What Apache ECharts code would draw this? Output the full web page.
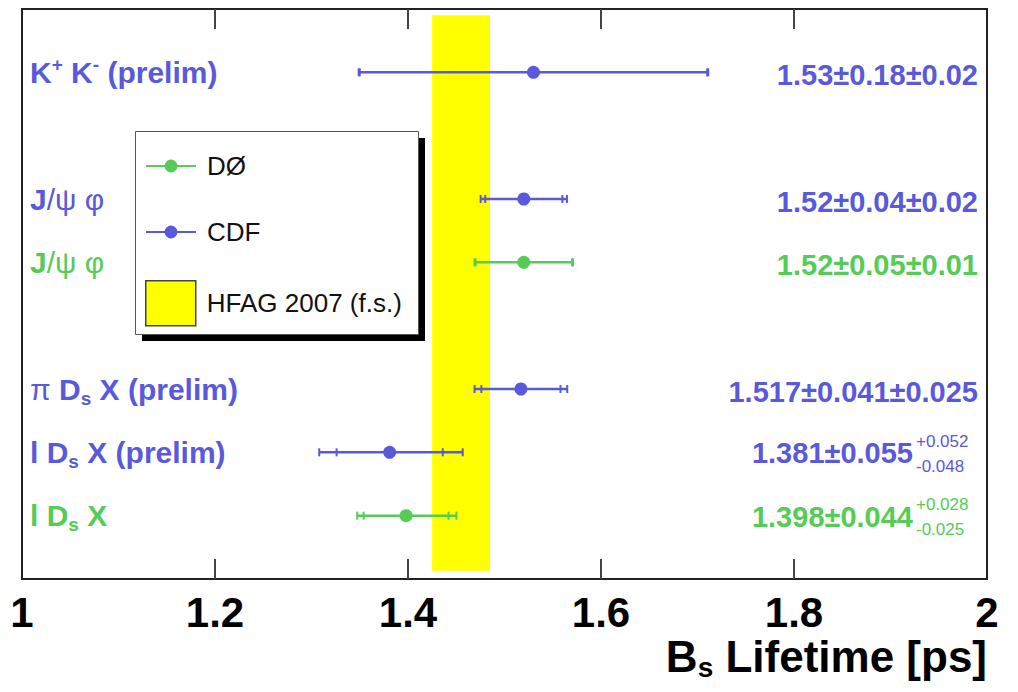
<!DOCTYPE html>
<html>
<head>
<meta charset="utf-8">
<script src="https://cdn.jsdelivr.net/npm/echarts@6/dist/echarts.min.js"></script>
<style>html,body{margin:0;padding:0;background:#fff}#chart{width:1018px;height:692px}</style>
</head>
<body>
<div id="chart"></div>
<script>
// ---- data ----
const rows        = [0, 2, 3, 5, 6, 7];
const experiment  = ['CDF', 'CDF', 'DØ', 'CDF', 'CDF', 'DØ'];
const lifetimes   = [1.53, 1.52, 1.52, 1.517, 1.381, 1.398];
const statErr     = [0.18, 0.04, 0.05, 0.041, 0.055, 0.044];
const sysErrUp    = [0.02, 0.02, 0.01, 0.025, 0.052, 0.028];
const sysErrDown  = [0.02, 0.02, 0.01, 0.025, 0.048, 0.025];
const leftLabels  = [
  '{b|K}{bsup|+}{b| K}{bsup|-}{b| (prelim)}',
  '{b|J}{bn|/ψ φ}',
  '{g|J}{gn|/ψ φ}',
  '{bn|π }{b|D}{bsub|s}{b| X (prelim)}',
  '{b|l D}{bsub|s}{b| X (prelim)}',
  '{g|l D}{gsub|s}{g| X}'
];
const rightMain   = ['1.53±0.18±0.02', '1.52±0.04±0.02', '1.52±0.05±0.01', '1.517±0.041±0.025', '1.381±0.055', '1.398±0.044'];
const rightSup    = ['', '', '', '', '+0.052', '+0.028'];
const rightSub    = ['', '', '', '', '-0.048', '-0.025'];
const hfagBand    = [1.425, 1.485];
const hfagRows    = [-0.9, 7.87];
const xTicks      = [1, 1.2, 1.4, 1.6, 1.8, 2];
const yRange      = [-1, 8];
const colors      = { 'CDF': '#5959db', 'DØ': '#55cc55' };

// ---- build ----
const idxOf = e => rows.map((r, i) => i).filter(i => experiment[i] === e);
const pointData = e => idxOf(e).map(i => [lifetimes[i], rows[i]]);
const errData = rows.map((r, i) => {
  const tUp = Math.sqrt(statErr[i] ** 2 + sysErrUp[i] ** 2);
  const tDn = Math.sqrt(statErr[i] ** 2 + sysErrDown[i] ** 2);
  return [lifetimes[i], r, lifetimes[i] - statErr[i], lifetimes[i] + statErr[i],
          lifetimes[i] - tDn, lifetimes[i] + tUp, experiment[i] === 'CDF' ? 0 : 1];
});
const colArr = [colors['CDF'], colors['DØ']];
const FONT = "'Liberation Sans', Arial, Helvetica, sans-serif";
const B = colors['CDF'], G = colors['DØ'];
const rich = {
  b:    { color: B, fontSize: 30, fontWeight: 'bold', fontFamily: FONT },
  bn:   { color: B, fontSize: 30, fontWeight: 'normal', fontFamily: FONT },
  bsup: { color: B, fontSize: 19, fontWeight: 'bold', fontFamily: FONT, padding: [0, 0, 16, 0] },
  bsub: { color: B, fontSize: 19, fontWeight: 'bold', fontFamily: FONT, padding: [18, 0, 0, 0] },
  g:    { color: G, fontSize: 30, fontWeight: 'bold', fontFamily: FONT },
  gn:   { color: G, fontSize: 30, fontWeight: 'normal', fontFamily: FONT },
  gsub: { color: G, fontSize: 19, fontWeight: 'bold', fontFamily: FONT, padding: [18, 0, 0, 0] }
};

const chart = echarts.init(document.getElementById('chart'), null, { renderer: 'svg' });
chart.setOption({
  animation: false,
  grid: { left: 22, right: 31, top: 9, bottom: 113, show: true, borderColor: '#222', borderWidth: 2 },
  xAxis: [
    {
      type: 'value', min: 1, max: 2, interval: 0.2, position: 'bottom',
      axisLine: { show: true, onZero: false, lineStyle: { color: '#222', width: 2 } },
      axisTick: { show: false },
      splitLine: { show: false },
      axisLabel: { show: true, margin: 12, color: '#000', fontSize: 42, fontWeight: 'bold', fontFamily: FONT,
        formatter: v => { const t = xTicks.find(x => Math.abs(x - v) < 1e-6); return t === undefined ? '' : String(t); } },
      name: '{b|B}{s|s}{b| Lifetime [ps]}',
      nameLocation: 'end', nameGap: 0,
      nameTextStyle: { align: 'right', verticalAlign: 'top', padding: [52, 0, 0, 0],
        rich: { b: { fontSize: 44, fontWeight: 'bold', color: '#000', fontFamily: FONT },
                s: { fontSize: 28, fontWeight: 'bold', color: '#000', fontFamily: FONT, padding: [22, 0, 0, 0] } } }
    }
  ],
  yAxis: {
    type: 'value', min: yRange[0], max: yRange[1], interval: 1, inverse: true,
    axisLine: { show: false, onZero: false }, axisTick: { show: false }, splitLine: { show: false },
    axisLabel: { inside: true, margin: 8, align: 'left', rich: rich,
      formatter: v => { const i = rows.indexOf(v); return i < 0 ? '' : leftLabels[i]; } }
  },
  graphic: [
    { type: 'rect', left: 142, top: 138, shape: { width: 283, height: 203 }, style: { fill: '#000' } },
    { type: 'rect', left: 135, top: 131, shape: { width: 283, height: 203 }, style: { fill: '#fff', stroke: '#555', lineWidth: 1 } }
  ],
  legend: [
    { data: [{ name: 'DØ', lineStyle: { opacity: 1, width: 2, color: G } }, { name: 'CDF', lineStyle: { opacity: 1, width: 2, color: B } }],
      orient: 'vertical', left: 145, top: 153, padding: 0, itemWidth: 50, itemHeight: 16, itemGap: 40,
      selectedMode: false, textStyle: { fontSize: 26, color: '#111', fontFamily: FONT, padding: [0, 0, 0, 6] } },
    { data: [{ name: 'HFAG 2007 (f.s.)', icon: 'rect', itemStyle: { color: '#ffff00', borderColor: '#444', borderWidth: 1.5 } }],
      orient: 'vertical', left: 145, top: 280, padding: 0, itemWidth: 50, itemHeight: 45,
      selectedMode: false, textStyle: { fontSize: 26, color: '#111', fontFamily: FONT, padding: [0, 0, 0, 6] } }
  ],
  series: [
    { name: 'HFAG 2007 (f.s.)', type: 'custom', z: 1, itemStyle: { color: '#ffff00' },
      data: [[hfagBand[0], hfagBand[1], hfagRows[0], hfagRows[1]]],
      encode: { x: [0, 1], y: [2, 3] },
      renderItem: (p, api) => {
        const a = api.coord([api.value(0), api.value(2)]);
        const b = api.coord([api.value(1), api.value(3)]);
        return { type: 'rect', shape: { x: a[0], y: a[1], width: b[0] - a[0], height: b[1] - a[1] }, style: { fill: '#ffff00' } };
      } },
    { name: 'ticks', type: 'custom', z: 2, clip: false, silent: true,
      data: xTicks.slice(1, -1).map(v => [v, yRange[0], yRange[1]]),
      encode: { x: 0, y: [1, 2] },
      renderItem: (p, api) => {
        const top = api.coord([api.value(0), api.value(1)]);
        const bot = api.coord([api.value(0), api.value(2)]);
        const st = { stroke: '#444', lineWidth: 2 };
        return { type: 'group', children: [
          { type: 'line', shape: { x1: top[0], y1: top[1], x2: top[0], y2: top[1] + 20 }, style: st },
          { type: 'line', shape: { x1: bot[0], y1: bot[1], x2: bot[0], y2: bot[1] - 20 }, style: st }
        ] };
      } },
    { name: 'errors', type: 'custom', z: 3, data: errData,
      encode: { x: [0, 2, 3, 4, 5], y: 1 },
      renderItem: (p, api) => {
        const y = api.value(1), c = colArr[api.value(6)];
        const pt = v => api.coord([v, y]);
        const tl = pt(api.value(4)), th = pt(api.value(5)), sl = pt(api.value(2)), sh = pt(api.value(3));
        const h = 4;
        const tick = q => ({ type: 'line', shape: { x1: q[0], y1: q[1] - h, x2: q[0], y2: q[1] + h }, style: { stroke: c, lineWidth: 2 } });
        return { type: 'group', children: [
          { type: 'line', shape: { x1: tl[0], y1: tl[1], x2: th[0], y2: th[1] }, style: { stroke: c, lineWidth: 2.5 } },
          tick(tl), tick(th), tick(sl), tick(sh)
        ] };
      } },
    { name: 'DØ', type: 'line', z: 4, data: pointData('DØ'), symbol: 'circle', symbolSize: 13,
      itemStyle: { color: G }, lineStyle: { opacity: 0, color: G } },
    { name: 'CDF', type: 'line', z: 4, data: pointData('CDF'), symbol: 'circle', symbolSize: 13,
      itemStyle: { color: B }, lineStyle: { opacity: 0, color: B } },
    { name: 'values', type: 'custom', z: 5,
      data: rows.map((r, i) => [2, r, i]),
      encode: { x: 0, y: 1 },
      renderItem: (p, api) => {
        const i = api.value(2);
        const q = api.coord([api.value(0), api.value(1)]);
        const c = colors[experiment[i]];
        const children = [];
        if (rightSup[i]) {
          const xm = q[0] - 74;
          children.push({ type: 'text', x: xm, y: q[1] + 1, style: { text: rightMain[i], fill: c, fontSize: 29, fontWeight: 'bold', fontFamily: FONT, align: 'right', verticalAlign: 'middle' } });
          children.push({ type: 'text', x: xm + 3, y: q[1] - 11, style: { text: rightSup[i], fill: c, fontSize: 17, fontFamily: FONT, align: 'left', verticalAlign: 'middle' } });
          children.push({ type: 'text', x: xm + 3, y: q[1] + 14, style: { text: rightSub[i], fill: c, fontSize: 17, fontFamily: FONT, align: 'left', verticalAlign: 'middle' } });
        } else {
          children.push({ type: 'text', x: q[0] - 9, y: q[1] + 3, style: { text: rightMain[i], fill: c, fontSize: 29, fontWeight: 'bold', fontFamily: FONT, align: 'right', verticalAlign: 'middle' } });
        }
        return { type: 'group', children };
      } }
  ]
});
</script>
</body>
</html>
